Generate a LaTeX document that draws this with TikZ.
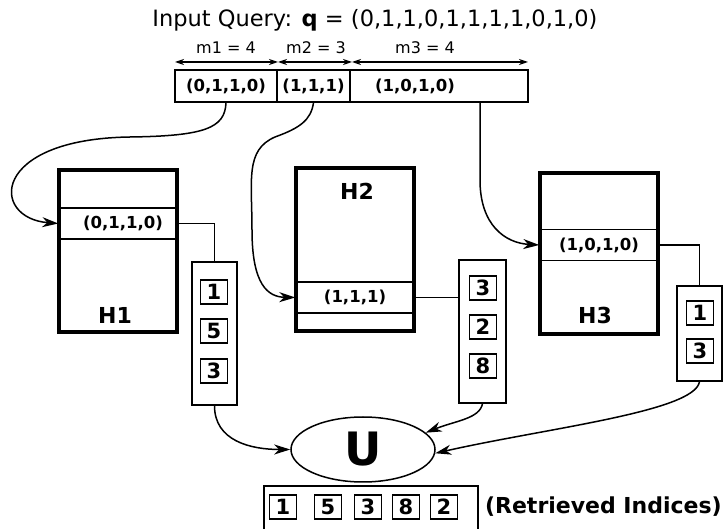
\documentclass[tikz,border=0pt]{standalone}
\usepackage{fontspec}
\setmainfont{DejaVu Sans}
\usetikzlibrary{arrows.meta,shapes.geometric}

\begin{document}
\begin{tikzpicture}[x=1pt, y=-1pt, line width=1.5pt,
  arr/.style={-{Stealth[length=16pt,width=10pt,inset=5pt]}},
  dim/.style={{Stealth[length=9pt,width=6pt]}-{Stealth[length=9pt,width=6pt]}, line width=1.2pt},
  qcell/.style={draw, minimum height=32pt, inner sep=0pt, font=\fontsize{16.5}{18}\selectfont\bfseries},
  hbox/.style={draw, line width=3.2pt, minimum width=118pt, inner sep=0pt},
  hrow/.style={draw, minimum width=118pt, minimum height=31pt, inner sep=0pt, font=\fontsize{16.5}{18}\selectfont\bfseries},
  hname/.style={font=\fontsize{22}{24}\selectfont\bfseries},
  lst/.style={draw, minimum width=45pt, inner sep=0pt},
  idx/.style={draw, line width=1.8pt, minimum width=27pt, minimum height=24pt, inner sep=0pt, font=\fontsize{21}{22}\selectfont\bfseries},
  mlab/.style={font=\fontsize{16}{18}\selectfont}]

\useasboundingbox (0,0) rectangle (724,529);

% query
\node (title) at (375,20) {\fontsize{22.5}{26}\selectfont Input Query: \textbf{q} = (0,1,1,0,1,1,1,1,0,1,0)};

\coordinate (d0) at (175,62);
\coordinate (d1) at (278,62);
\coordinate (d2) at (352,62);
\coordinate (d3) at (528,62);
\draw[dim] (d0) -- (d1);
\draw[dim] (d1) -- (d2);
\draw[dim] (d2) -- (d3);
\node[mlab] (m1) at (226,48) {m1 = 4};
\node[mlab] (m2) at (316,48) {m2 = 3};
\node[mlab] (m3) at (425,48) {m3 = 4};

\node[qcell, minimum width=102pt] (q1) at (226,86) {(0,1,1,0)};
\node[qcell, minimum width=73pt] (q2) at (313.5,86) {(1,1,1)};
\node[qcell, minimum width=178pt, text width=128pt, align=left] (q3) at (439,86) {(1,0,1,0)};
\coordinate (q3out) at (480,102);

% hash tables
\node[hbox, minimum height=162pt] (h1) at (118,251) {};
\node[hbox, minimum height=163pt] (h2) at (355,249.5) {};
\node[hbox, minimum height=161pt] (h3) at (599,253.5) {};
\node[hrow] (r1) at (118,223.5) {\hspace*{10pt}(0,1,1,0)};
\node[hrow] (r2) at (355,297.5) {(1,1,1)};
\node[hrow] (r3) at (599,245) {(1,0,1,0)};
\node[hname] (n1) at (115,315) {H1};
\node[hname] (n2) at (357,191) {H2};
\node[hname] (n3) at (595,315) {H3};

% buckets
\node[lst, minimum height=143pt] (l1) at (214.5,333.5) {};
\node[lst, minimum width=47pt, minimum height=143pt] (l2) at (482.5,331.5) {};
\node[lst, minimum height=95pt] (l3) at (699.5,333.5) {};
\node[idx] (a1) at (214,292) {1};
\node[idx] (a2) at (214,331) {5};
\node[idx] (a3) at (214,371) {3};
\node[idx] (b1) at (483,288) {3};
\node[idx] (b2) at (483,327) {2};
\node[idx] (b3) at (483,366) {8};
\node[idx] (c1) at (700,313) {1};
\node[idx] (c2) at (700,351) {3};

% union
\node[ellipse, draw, minimum width=144pt, minimum height=65pt, inner sep=0pt,
  font=\fontsize{46}{46}\selectfont\bfseries] (u) at (363,449.5) {U};

\node[draw, minimum width=214pt, minimum height=50pt] (res) at (371,511) {};
\foreach \v/\x [count=\i] in {1/283,5/328,3/368,8/406,2/444}
  \node[idx] (o\i) at (\x,507) {\v};
\node[anchor=west, font=\fontsize{22}{24}\selectfont\bfseries] (ri) at (481,507) {(Retrieved Indices)};

% links
\draw[arr] (q1.south) .. controls (225,128) and (205,136) .. (130,137)
  .. controls (-10,139) and (-10,218) .. (r1.west);
\draw[arr] (q2.south) .. controls (311,120) and (300,128) .. (275,137)
  .. controls (245,150) and (252,180) .. (252,230)
  .. controls (252,285) and (268,297) .. (r2.west);
\draw[arr] (q3out) -- (480,180) .. controls (480,225) and (505,243) .. (r3.west);

\draw (r1.east) -| (l1.north);
\draw (r2.east) -- (r2.east -| l2.west);
\draw (r3.east) -| (l3.north);

\draw[arr] (l1.south) .. controls +(0,35) and +(-40,0) .. (u.west);
\draw[arr] (l2.south) .. controls +(-3,15) and +(30,-12) .. (u.15);
\draw[arr] (l3.south) .. controls +(-5,30) and +(110,-25) .. (u.-3);

\end{tikzpicture}
\end{document}
